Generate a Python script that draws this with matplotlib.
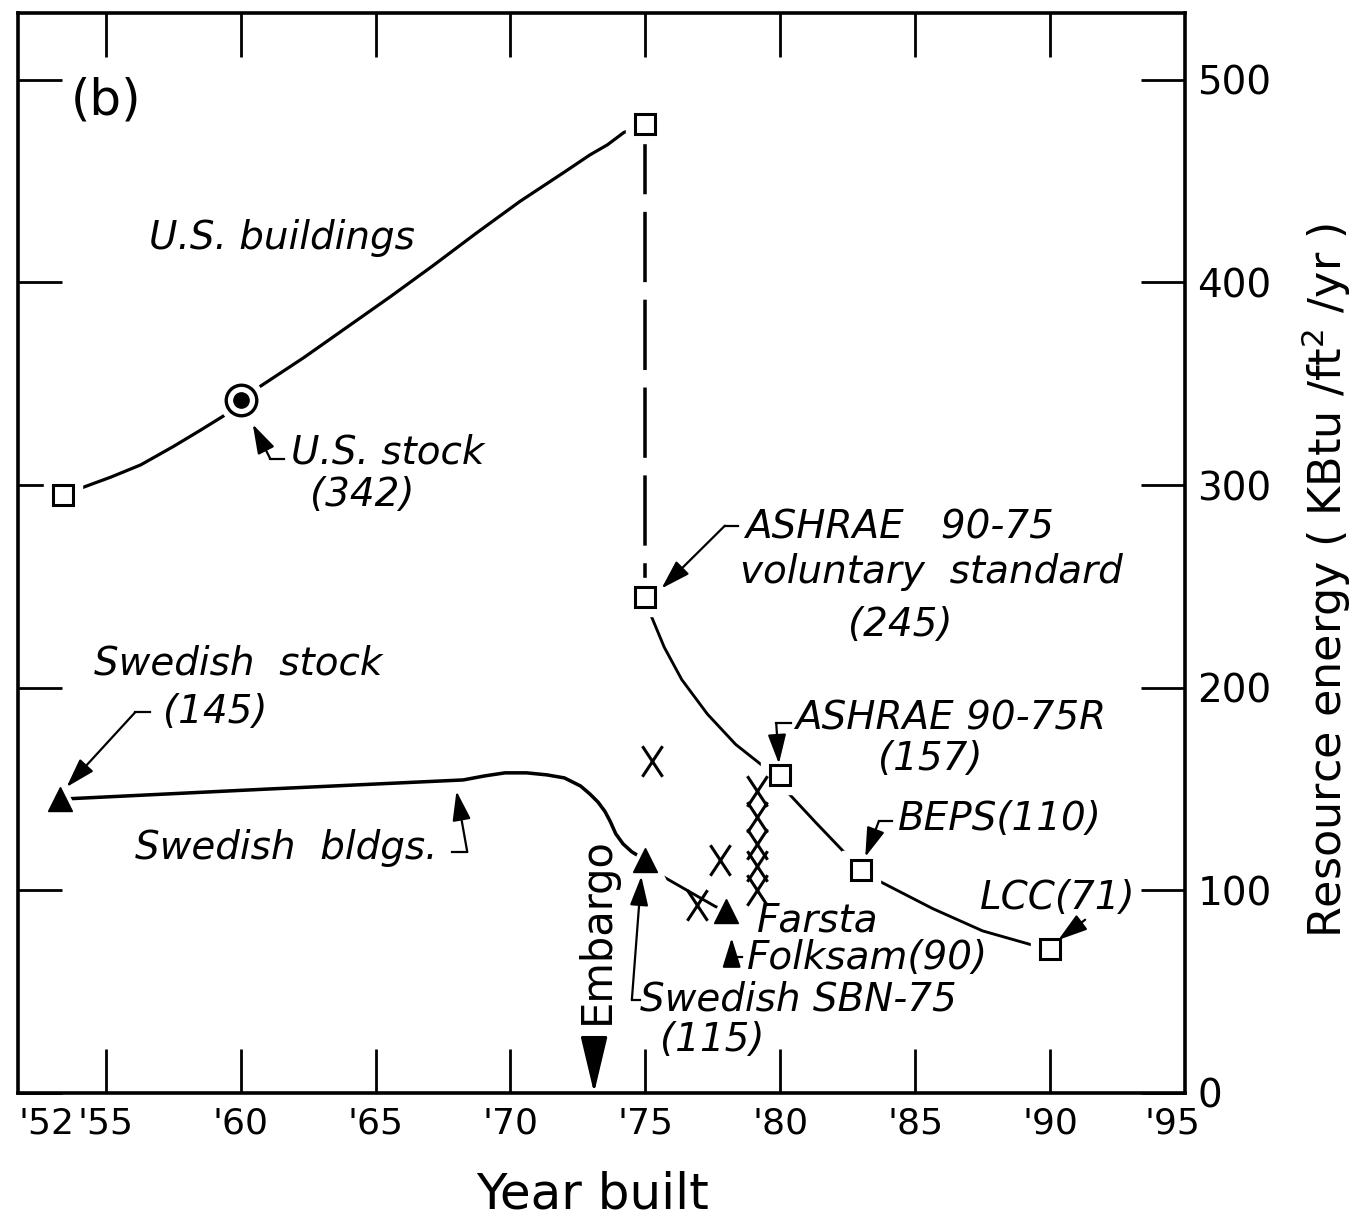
import matplotlib.pyplot as plt
from matplotlib.path import Path

# U.S. buildings, resource energy by year built (KBtu/ft2/yr)
us_years = [53.4, 54.1, 55.2, 56.3, 57.5, 58.5, 59.35, 60.0, 60.7, 62.35, 63.95, 65.55,
            67.15, 68.75, 70.35, 72.0, 72.95, 73.6, 74.2, 75.0]
us_energy = [295, 298.6, 304, 310, 319, 327, 334, 342, 348.5, 363, 378, 393,
             408.5, 424.5, 440, 454.5, 463, 468, 474, 478]
us_marker_years = [53.4, 75]
us_marker_energy = [295, 478]
us_stock_year = 60
us_stock_energy = 342

# ASHRAE 90-75 -> 90-75R -> BEPS -> LCC
std_years = [75.0, 75.2, 75.7, 76.35, 77.3, 78.35, 79.3, 80.0, 80.3, 81.35, 82.5, 83.0,
             83.75, 85.65, 87.5, 89.35, 90.0]
std_energy = [245, 236, 220, 204, 187, 172, 162, 157, 148, 133, 117, 110,
              104, 91, 80, 73, 71]
std_marker_years = [75, 80, 83, 90]
std_marker_energy = [245, 157, 110, 71]

# Swedish buildings
swe_years = [53.3, 61.0, 68.25, 69.05, 69.8, 70.6, 71.35, 72.0, 72.6, 72.95, 73.25,
             73.5, 73.7, 73.9, 74.17, 74.5, 75.0]
swe_energy = [145, 150, 154.5, 156.5, 158, 158, 157, 155.5, 151.5, 147.5, 143.5,
              139, 134, 128, 123, 119, 115]
swe_late_years = [75.0, 75.5, 77.6, 78.0]
swe_late_energy = [115, 108, 92, 90]
swe_marker_years = [53.3, 75, 78]
swe_marker_energy = [145, 115, 90]

# individual buildings shown as X
x_years = [75.25, 77.75, 76.9, 79.15, 79.15, 79.15, 79.15, 79.15]
x_energy = [164, 115, 93, 149, 136, 123, 112, 100]

embargo_year = 73

# '52 and '95 sit on the frame edges, so their labels are placed just inside
xtick_vals = [51.75, 55, 60, 65, 70, 75, 80, 85, 90, 94.55]
xtick_labels = ["'52", "'55", "'60", "'65", "'70", "'75", "'80", "'85", "'90", "'95"]
ytick_vals = [0, 100, 200, 300, 400, 500]

plt.rcParams['font.family'] = ['DejaVu Sans']

fig = plt.figure(figsize=(13.67, 12.21), dpi=100)
ax = fig.add_axes([18 / 1367, 128 / 1221, 1167 / 1367, 1080 / 1221])
ax.set_xlim(51.75, 95)
ax.set_ylim(0, 533)

lw = 2.3
# curves
ax.plot(us_years, us_energy, color='black', lw=lw, zorder=2)
ax.plot(std_years, std_energy, color='black', lw=lw * 0.9, zorder=2)
ax.plot(swe_years, swe_energy, color='black', lw=lw * 1.1, zorder=2)
ax.plot(swe_late_years, swe_late_energy, color='black', lw=lw * 0.9, zorder=2)
ax.plot([75, 75], [us_marker_energy[1], std_marker_energy[0]], color='black', lw=lw * 1.1,
        dashes=(20, 5), zorder=2)

# white halos so the curves break around the markers
halo = dict(ls='none', color='white', mec='white', zorder=3)
ax.plot(us_marker_years + std_marker_years, us_marker_energy + std_marker_energy,
        marker='s', ms=27, **halo)
ax.plot(swe_marker_years, swe_marker_energy, marker='^', ms=30, **halo)
ax.plot([us_stock_year], [us_stock_energy], marker='o', ms=32, **halo)

ax.plot(us_marker_years + std_marker_years, us_marker_energy + std_marker_energy,
        ls='none', marker='s', ms=14, mfc='white', mec='black', mew=2.2, zorder=4)
ax.plot(swe_marker_years, swe_marker_energy, ls='none', marker='^', ms=17,
        color='black', zorder=4)
ax.plot([us_stock_year], [us_stock_energy], ls='none', marker='o', ms=22,
        mfc='white', mec='black', mew=2.4, zorder=4)
ax.plot([us_stock_year], [us_stock_energy], ls='none', marker='o', ms=11,
        color='black', zorder=5)

x_marker = Path([(-0.33, -0.5), (0.33, 0.5), (-0.33, 0.5), (0.33, -0.5)],
                [Path.MOVETO, Path.LINETO, Path.MOVETO, Path.LINETO])
ax.plot(x_years, x_energy, ls='none', marker=x_marker, ms=22, mec='black', mew=2.2, zorder=4)

# axes styling
for sp in ax.spines.values():
    sp.set_linewidth(2.6)
ax.set_xticks(xtick_vals)
ax.set_xticklabels(xtick_labels)
ax.get_xticklabels()[0].set_ha('left')
ax.set_yticks(ytick_vals)
ax.set_yticklabels([str(v) for v in ytick_vals])
ax.get_yticklabels()[0].set_va('baseline')
ax.tick_params(direction='in', length=32, width=2, top=True, right=True,
               labelsize=28, pad=10)
ax.tick_params(axis='x', labelsize=26)
ax.tick_params(axis='y', labelleft=False, labelright=True, pad=9)
# no tick marks for the edge labels
for t in (ax.xaxis.get_major_ticks()[0], ax.xaxis.get_major_ticks()[-1]):
    t.tick1line.set_visible(False)
    t.tick2line.set_visible(False)

ax.set_xlabel('Year built', fontsize=36)
ax.xaxis.set_label_coords(0.492, -0.072)
ax.set_ylabel('Resource energy ( KBtu /ft$^2$ /yr )', fontsize=32)
ax.yaxis.set_label_position('right')
ax.yaxis.set_label_coords(1.098, 0.475)

ital = dict(fontsize=28, style='italic', va='center')
arrow_kw = dict(arrowstyle='-|>,head_length=0.9,head_width=0.28', color='black',
                lw=1.6, mutation_scale=20, shrinkA=0, shrinkB=0)


def leader(points, tip):
    xs = [p[0] for p in points]
    ys = [p[1] for p in points]
    ax.plot(xs, ys, color='black', lw=1.6, zorder=4)
    ax.annotate('', xy=tip, xytext=points[-1], arrowprops=arrow_kw, zorder=4)


ax.text(53.7, 490, '(b)', fontsize=36, va='center')
ax.text(56.6, 422, 'U.S. buildings', **ital)

ax.text(61.85, 316, 'U.S. stock', **ital)
ax.text(64.5, 295, '(342)', ha='center', **ital)
leader([(61.6, 313), (61.1, 313)], (60.45, 330))

ax.text(78.7, 279, 'ASHRAE   90-75', **ital)
ax.text(78.5, 257, 'voluntary  standard', **ital)
ax.text(84.45, 231, '(245)', ha='center', **ital)
leader([(78.45, 280), (77.95, 280)], (75.6, 249))

ax.text(80.55, 185, 'ASHRAE 90-75R', **ital)
ax.text(85.55, 165, '(157)', ha='center', **ital)
leader([(80.4, 182.5), (79.85, 182.5)], (79.95, 162.5))

ax.text(84.35, 135, 'BEPS(110)', **ital)
leader([(84.15, 134), (83.65, 134)], (83.15, 116.5))

ax.text(87.4, 96, 'LCC(71)', **ital)
leader([(91.3, 85.5)], (90.3, 75.5))

ax.text(54.55, 212, 'Swedish  stock', **ital)
ax.text(59.05, 188, '(145)', ha='center', **ital)
leader([(56.65, 188), (56.1, 188)], (53.55, 151))

ax.text(56.1, 121, 'Swedish  bldgs.', **ital)
leader([(67.85, 119), (68.4, 119)], (68.0, 149))

ax.text(74.8, 46, 'Swedish SBN-75', **ital)
ax.text(77.47, 26, '(115)', ha='center', **ital)
leader([(74.8, 46), (74.5, 46)], (74.85, 107))

ax.text(79.15, 85, 'Farsta', **ital)
ax.text(78.77, 66.5, 'Folksam(90)', **ital)
leader([(78.6, 67), (78.2, 67)], (78.2, 76.5))

ax.text(73.22, 80, 'Embargo', rotation=90, fontsize=30, ha='center', va='center')
ax.annotate('', xy=(embargo_year + 0.1, 0), xytext=(embargo_year + 0.1, 24),
            arrowprops=dict(arrowstyle='-|>,head_length=1.6,head_width=0.38', color='black',
                            lw=2.2, mutation_scale=22, shrinkA=0, shrinkB=0))

fig.savefig('out.png', dpi=100, facecolor='white')
